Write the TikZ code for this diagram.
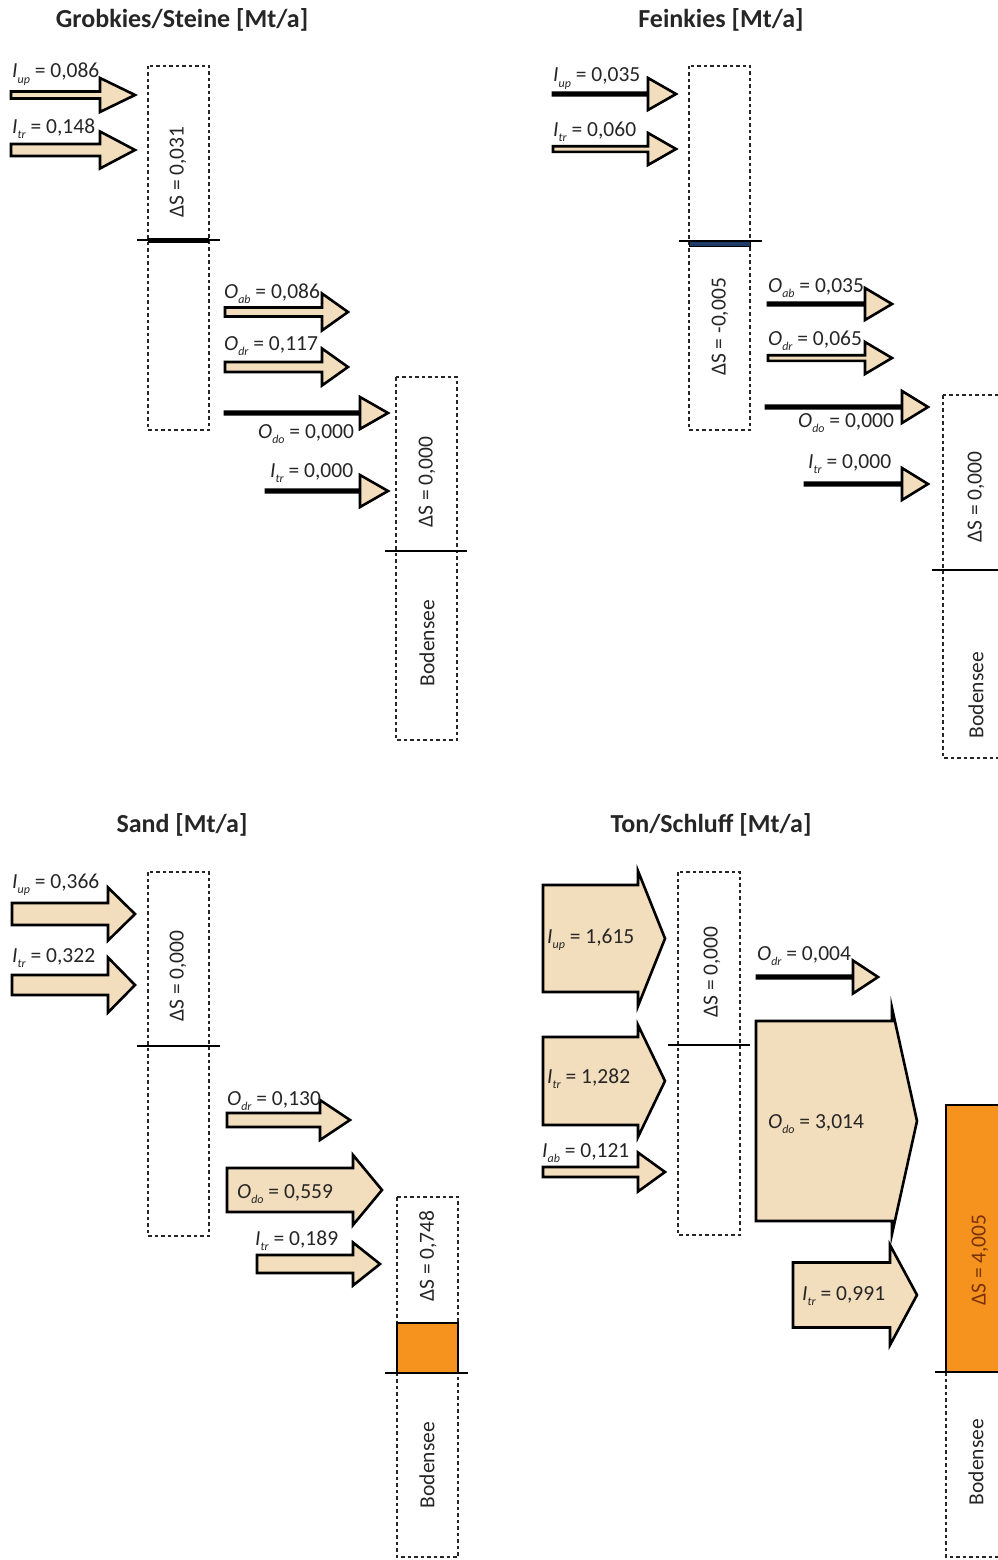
\documentclass[tikz,border=0pt]{standalone}
\usepackage{fontspec}
\setmainfont{Carlito}
\definecolor{beige}{RGB}{242,221,188}
\definecolor{orng}{RGB}{246,146,30}
\definecolor{txt}{RGB}{38,38,38}
\definecolor{navy}{RGB}{31,60,105}
\definecolor{brwn}{RGB}{120,50,10}
\newcommand\sublbl[1]{\raisebox{-0.5ex}{\fontsize{12}{13}\selectfont\itshape #1}}
\newcommand\fl[3]{\textit{#1}\sublbl{#2} = #3}
\newcommand\blockarrow[6]{%
  \draw[flowarrow] ({#1},{#4-#5}) -- ({#2},{#4-#5}) -- ({#2},{#4-#6}) -- ({#3},{#4})
    -- ({#2},{#4+#6}) -- ({#2},{#4+#5}) -- ({#1},{#4+#5}) -- cycle;}
\tikzset{
  flowarrow/.style={draw=black, fill=beige, line width=2.6pt, line join=miter},
  dotbox/.style={draw=black!85, line width=2.2pt, dash pattern=on 3.5pt off 3pt},
  level/.style={draw=black, line width=1.4pt},
  lbl/.style={font=\fontsize{21.5}{25}\selectfont, text=txt, inner sep=0pt},
  vlbl/.style={lbl, rotate=90, anchor=center},
  ttl/.style={font=\fontsize{26}{30}\selectfont\bfseries, text=txt, inner sep=0pt}
}
\begin{document}
\begin{tikzpicture}[x=1pt,y=-1pt]
\path[use as bounding box] (0,0) rectangle (998,1560);
\clip (0,0) rectangle (998,1560);

% ---------------- Panel 1: Grobkies/Steine ----------------
\node[ttl] (t1) at (182,20) {Grobkies/Steine [Mt/a]};
\draw[dotbox] (148,66) rectangle (209,430);
\fill[black] (148,238) rectangle (209,243);
\draw[level] (137,240) -- (220,240);
\node[vlbl] (s1a) at (178,172) {ΔS = 0,031};
\blockarrow{11}{100}{135}{95}{3.5}{17}
\blockarrow{11}{100}{135}{150}{6}{18.5}
\node[lbl, anchor=base west] (l1a) at (12,78) {\fl{I}{up}{0,086}};
\node[lbl, anchor=base west] (l1b) at (12,133) {\fl{I}{tr}{0,148}};
\blockarrow{225}{322}{348}{312}{4.5}{18.5}
\blockarrow{225}{322}{348}{367}{5}{18.5}
\blockarrow{225}{360}{388}{413}{1.3}{16}
\blockarrow{266}{360}{388}{491}{1.3}{16}
\node[lbl, anchor=base west] (l1c) at (224,298) {\fl{O}{ab}{0,086}};
\node[lbl, anchor=base west] (l1d) at (224,350) {\fl{O}{dr}{0,117}};
\node[lbl, anchor=base west] (l1e) at (258,438) {\fl{O}{do}{0,000}};
\node[lbl, anchor=base west] (l1f) at (270,477) {\fl{I}{tr}{0,000}};
\draw[dotbox] (396,377) rectangle (457,740);
\draw[level] (385,551) -- (467,551);
\node[vlbl] (s1b) at (427,482) {ΔS = 0,000};
\node[vlbl] (b1) at (427,643) {Bodensee};

% ---------------- Panel 2: Feinkies ----------------
\node[ttl] (t2) at (721,20) {Feinkies [Mt/a]};
\draw[dotbox] (689,66) rectangle (750,430);
\filldraw[fill=navy, draw=black, line width=0.6pt] (689,241) rectangle (750,246);
\draw[level] (679,241) -- (762,241);
\node[vlbl] (s2a) at (720,327) {ΔS = -0,005};
\blockarrow{553}{648}{676}{94}{1.3}{16}
\blockarrow{553}{648}{676}{149}{2.8}{16}
\node[lbl, anchor=base west] (l2a) at (553,82) {\fl{I}{up}{0,035}};
\node[lbl, anchor=base west] (l2b) at (553,136) {\fl{I}{tr}{0,060}};
\blockarrow{768}{865}{892}{304}{1.3}{16}
\blockarrow{768}{865}{892}{358}{2.8}{16}
\blockarrow{766}{902}{928}{407}{1.3}{16}
\blockarrow{805}{902}{928}{484}{1.3}{16}
\node[lbl, anchor=base west] (l2c) at (768,292) {\fl{O}{ab}{0,035}};
\node[lbl, anchor=base west] (l2d) at (768,345) {\fl{O}{dr}{0,065}};
\node[lbl, anchor=base west] (l2e) at (798,427) {\fl{O}{do}{0,000}};
\node[lbl, anchor=base west] (l2f) at (808,468) {\fl{I}{tr}{0,000}};
\draw[dotbox] (943,395) rectangle (1004,758);
\draw[level] (932,570) -- (1000,570);
\node[vlbl] (s2b) at (976,497) {ΔS = 0,000};
\node[vlbl] (b2) at (976,695) {Bodensee};

% ---------------- Panel 3: Sand ----------------
\node[ttl] (t3) at (182,825) {Sand [Mt/a]};
\draw[dotbox] (148,872) rectangle (209,1236);
\draw[level] (137,1046) -- (220,1046);
\node[vlbl] (s3a) at (178,976) {ΔS = 0,000};
\blockarrow{12}{108}{135}{914}{11}{26.5}
\blockarrow{12}{108}{135}{985}{10}{27.5}
\node[lbl, anchor=base west] (l3a) at (12,888) {\fl{I}{up}{0,366}};
\node[lbl, anchor=base west] (l3b) at (12,962) {\fl{I}{tr}{0,322}};
\blockarrow{227}{320}{350}{1120}{7}{20}
\blockarrow{227}{353}{382}{1190}{22}{35}
\blockarrow{257}{353}{380}{1264}{9}{21.5}
\node[lbl, anchor=base west] (l3c) at (227,1105) {\fl{O}{dr}{0,130}};
\node[lbl, anchor=base west] (l3d) at (237,1198) {\fl{O}{do}{0,559}};
\node[lbl, anchor=base west] (l3e) at (255,1245) {\fl{I}{tr}{0,189}};
\draw[dotbox] (397,1197) rectangle (458,1557);
\filldraw[fill=orng, draw=black, line width=1.2pt] (397,1323) rectangle (458,1373);
\draw[level] (385,1373) -- (468,1373);
\node[vlbl] (s3b) at (428,1256) {ΔS = 0,748};
\node[vlbl] (b3) at (427,1465) {Bodensee};

% ---------------- Panel 4: Ton/Schluff ----------------
\node[ttl] (t4) at (711,825) {Ton/Schluff [Mt/a]};
\draw[dotbox] (678,872) rectangle (740,1235);
\draw[level] (668,1045) -- (750,1045);
\node[vlbl] (s4a) at (712,972) {ΔS = 0,000};
\blockarrow{543}{638}{665}{938.5}{53.5}{67.5}
\blockarrow{543}{638}{665}{1081}{44}{56}
\blockarrow{543}{638}{665}{1172}{5}{19.5}
\node[lbl, anchor=base west] (l4a) at (547,943) {\fl{I}{up}{1,615}};
\node[lbl, anchor=base west] (l4b) at (547,1083) {\fl{I}{tr}{1,282}};
\node[lbl, anchor=base west] (l4c) at (542,1157) {\fl{I}{ab}{0,121}};
\blockarrow{757}{853}{878}{977}{1.3}{16.5}
\blockarrow{756}{892}{917}{1121}{100}{113}
\blockarrow{793}{890}{917}{1295}{32.5}{50}
\node[lbl, anchor=base west] (l4d) at (757,960) {\fl{O}{dr}{0,004}};
\node[lbl, anchor=base west] (l4e) at (768,1128) {\fl{O}{do}{3,014}};
\node[lbl, anchor=base west] (l4f) at (802,1300) {\fl{I}{tr}{0,991}};
\draw[dotbox] (946,1372) rectangle (1007,1557);
\filldraw[fill=orng, draw=black, line width=1.2pt] (946,1105) rectangle (1010,1372);
\draw[level] (935,1372) -- (1000,1372);
\node[vlbl, text=brwn] (s4b) at (980,1260) {ΔS = 4,005};
\node[vlbl] (b4) at (976,1462) {Bodensee};
\end{tikzpicture}
\end{document}
